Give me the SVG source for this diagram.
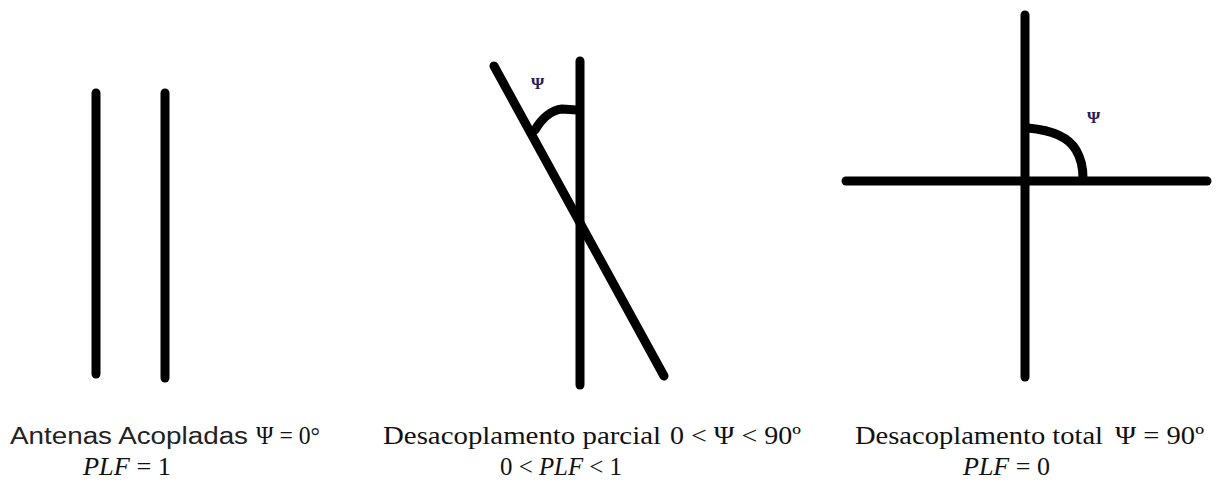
<svg xmlns="http://www.w3.org/2000/svg" width="1217" height="489" viewBox="0 0 1217 489">
<style>
.ln{stroke:#000;stroke-width:9;stroke-linecap:round;fill:none}
.sans{font-family:"Liberation Sans","Open Sans",sans-serif;font-size:23px;fill:#222}
.ser{font-family:"Liberation Serif","DejaVu Serif",serif;font-size:25px;fill:#111}
.it{font-style:italic}
.psi{font-family:"Liberation Serif","DejaVu Serif",serif;font-size:17px;font-weight:bold;fill:#2a1a5a}
</style>
<rect width="1217" height="489" fill="#fff"/>
<g id="coupled">
<line class="ln" x1="96" y1="93" x2="96" y2="374"/>
<line class="ln" x1="165" y1="93" x2="165" y2="378"/>
</g>
<g id="partial">
<line class="ln" x1="580" y1="61" x2="580" y2="385"/>
<line class="ln" x1="494" y1="66" x2="664" y2="376"/>
<path class="ln" d="M535,130 C542,118 552,110 562,109 L577,110"/>
<text class="psi" x="531" y="89">Ψ</text>
</g>
<g id="total">
<line class="ln" x1="1025" y1="15" x2="1025" y2="377"/>
<line class="ln" x1="846" y1="181" x2="1207" y2="181"/>
<path class="ln" d="M1028,128 C1050,130 1068,136 1076,150 C1082,160 1083,170 1083,178"/>
<text class="psi" x="1087" y="123">Ψ</text>
</g>
<g id="labels">
<text class="sans" x="10" y="444" textLength="238" lengthAdjust="spacingAndGlyphs">Antenas Acopladas</text>
<text class="ser" x="256" y="444" font-size="20" textLength="64" lengthAdjust="spacingAndGlyphs">Ψ = 0°</text>
<text class="ser" x="83" y="475" textLength="88" lengthAdjust="spacingAndGlyphs"><tspan class="it">PLF</tspan> = 1</text>
<text class="ser" x="383" y="444" textLength="278" lengthAdjust="spacingAndGlyphs">Desacoplamento parcial</text>
<text class="ser" x="670" y="444" font-size="21" textLength="131" lengthAdjust="spacingAndGlyphs">0 &lt; Ψ &lt; 90º</text>
<text class="ser" x="500" y="475" textLength="122" lengthAdjust="spacingAndGlyphs">0 &lt; <tspan class="it">PLF</tspan> &lt; 1</text>
<text class="ser" x="855" y="444" textLength="248" lengthAdjust="spacingAndGlyphs">Desacoplamento total</text>
<text class="ser" x="1115" y="444" font-size="22" textLength="89" lengthAdjust="spacingAndGlyphs">Ψ = 90º</text>
<text class="ser" x="963" y="475" textLength="87" lengthAdjust="spacingAndGlyphs"><tspan class="it">PLF</tspan> = 0</text>
</g>
</svg>
